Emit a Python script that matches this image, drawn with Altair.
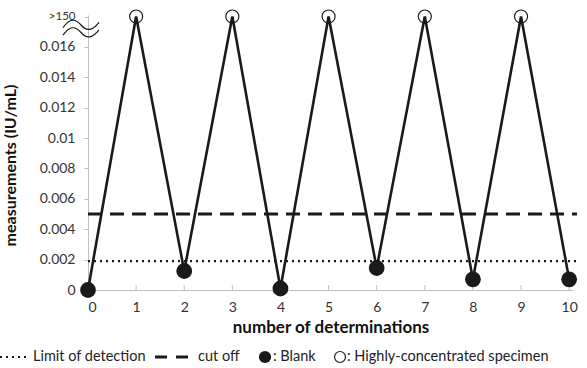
import altair as alt
import pandas as pd

# ---- data ----
determinations = [0, 1, 2, 3, 4, 5, 6, 7, 8, 9, 10]
measurements = [0.0, 0.018, 0.00125, 0.018, 0.0001, 0.018, 0.00145, 0.018, 0.0007, 0.018, 0.0007]
sample_type = ["Blank", "High", "Blank", "High", "Blank", "High", "Blank", "High", "Blank", "High", "Blank"]
limit_of_detection = 0.0019
cut_off = 0.005
y_ticks = [0, 0.002, 0.004, 0.006, 0.008, 0.01, 0.012, 0.014, 0.016, 0.018]
x_ticks = [0, 1, 2, 3, 4, 5, 6, 7, 8, 9, 10]

FONT = "Lato"
W, H = 485, 275

df = pd.DataFrame({"n": determinations, "v": measurements, "type": sample_type})
blank = df[df["type"] == "Blank"]
high = df[df["type"] == "High"]

xscale = alt.Scale(domain=[0, 10.08], nice=False, zero=False)
yscale = alt.Scale(domain=[0, 0.0181], nice=False, zero=False)

xaxis = alt.Axis(values=x_ticks, title="number of determinations", grid=False,
                 ticks=False, domainColor="#bfbfbf", labelFont=FONT, labelFontSize=14,
                 labelColor="#333333", labelPadding=10, labelOverlap=False,
                 titleFont=FONT, titleFontSize=17,
                 titleFontWeight="bold", titleColor="#111111", titlePadding=5)
yaxis = alt.Axis(values=y_ticks, title="measurements (IU/mL)", grid=False,
                 tickColor="#bfbfbf", tickSize=4, domainColor="#bfbfbf",
                 labelFont=FONT,
                 labelFontSize={"condition": {"test": "datum.value > 0.0179", "value": 11.5}, "value": 14},
                 labelColor="#333333", labelPadding=9, labelOverlap=False,
                 labelExpr="datum.value > 0.0179 ? '>150' : format(datum.value, '~g')",
                 titleFont=FONT, titleFontSize=16, titleFontWeight="bold", titleColor="#111111",
                 titleX=-70, titleY=150)


def X(f):
    return alt.X(f, scale=xscale, axis=xaxis, title="number of determinations")


def Y(f):
    return alt.Y(f, scale=yscale, axis=yaxis, title="measurements (IU/mL)")


line = alt.Chart(df).mark_line(color="#1a1a1a", strokeWidth=2.6).encode(
    x=X("n:Q"), y=Y("v:Q"), order="n:Q")

ref = pd.DataFrame({"lod": [limit_of_detection], "cut": [cut_off]})
lod_rule = alt.Chart(ref).mark_rule(color="#1a1a1a", strokeWidth=2.2, strokeDash=[2, 4]).encode(
    y=Y("lod:Q"), x=alt.value(0), x2=alt.value(W + 4))
cut_rule = alt.Chart(ref).mark_rule(color="#1a1a1a", strokeWidth=3, strokeDash=[14, 8]).encode(
    y=Y("cut:Q"), x=alt.value(0), x2=alt.value(W + 4))

xt = pd.DataFrame({"n": x_ticks})
tick_marks = alt.Chart(xt).mark_rule(color="#bfbfbf", strokeWidth=1).encode(
    x=X("n:Q"), y=alt.value(H - 5), y2=alt.value(H))

blank_pts = alt.Chart(blank).mark_point(shape="circle", filled=True, color="#1a1a1a", size=250, opacity=1).encode(
    x=X("n:Q"), y=Y("v:Q"))
high_pts = alt.Chart(high).mark_point(shape="circle", filled=False, color="#1a1a1a", size=170, strokeWidth=1.2, opacity=1).encode(
    x=X("n:Q"), y=Y("v:Q"))

one = pd.DataFrame({"a": [0]})
WAVE = "M -1 0.15 C -0.6 -0.4, -0.3 -0.35, 0 0 S 0.6 0.35, 1 -0.15"
brk1 = alt.Chart(one).mark_point(shape=WAVE, filled=False, color="#1a1a1a", size=1300, strokeWidth=1.2, opacity=1).encode(
    x=alt.value(-7), y=alt.value(10))
brk2 = alt.Chart(one).mark_point(shape=WAVE, filled=False, color="#1a1a1a", size=1300, strokeWidth=1.2, opacity=1).encode(
    x=alt.value(-7), y=alt.value(17.5))

# ---- manual legend ----
LY = 342
LFS = 14.5
leg = []
leg.append(alt.Chart(one).mark_rule(color="#1a1a1a", strokeWidth=2.2, strokeDash=[2, 4]).encode(
    x=alt.value(-88), x2=alt.value(-62), y=alt.value(LY)))
leg.append(alt.Chart(one).mark_text(text="Limit of detection", font=FONT, fontSize=LFS, color="#222222",
                                    align="left", baseline="middle").encode(x=alt.value(-55), y=alt.value(LY)))
leg.append(alt.Chart(one).mark_rule(color="#1a1a1a", strokeWidth=3, strokeDash=[12, 9]).encode(
    x=alt.value(67), x2=alt.value(100), y=alt.value(LY)))
leg.append(alt.Chart(one).mark_text(text="cut off", font=FONT, fontSize=LFS, color="#222222",
                                    align="left", baseline="middle").encode(x=alt.value(110), y=alt.value(LY)))
leg.append(alt.Chart(one).mark_point(shape="circle", filled=True, color="#1a1a1a", size=150, opacity=1).encode(
    x=alt.value(177), y=alt.value(LY)))
leg.append(alt.Chart(one).mark_text(text=": Blank", font=FONT, fontSize=LFS, color="#222222",
                                    align="left", baseline="middle").encode(x=alt.value(185), y=alt.value(LY)))
leg.append(alt.Chart(one).mark_point(shape="circle", filled=False, color="#1a1a1a", size=120, strokeWidth=1.2, opacity=1).encode(
    x=alt.value(252), y=alt.value(LY)))
leg.append(alt.Chart(one).mark_text(text=": Highly-concentrated specimen", font=FONT, fontSize=LFS, color="#222222",
                                    align="left", baseline="middle").encode(x=alt.value(259), y=alt.value(LY)))

chart = alt.layer(line, tick_marks, lod_rule, cut_rule, blank_pts, high_pts, brk1, brk2, *leg).properties(
    width=W, height=H,
    autosize=alt.AutoSizeParams(type="none"),
    padding={"left": 88, "top": 15, "right": 14, "bottom": 78},
    background="white",
).configure_view(stroke=None)

chart.save("out.html", embed_options={"renderer": "svg", "actions": False})
